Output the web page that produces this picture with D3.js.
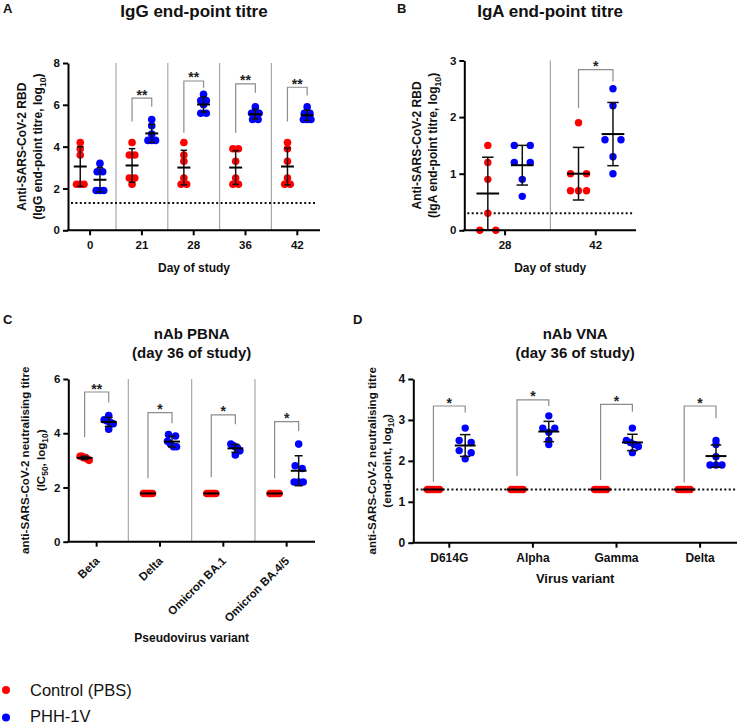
<!DOCTYPE html>
<html><head><meta charset="utf-8">
<script src="https://cdn.jsdelivr.net/npm/d3@7"></script>
<style>body{margin:0;background:#fff}svg{display:block}</style>
</head><body>
<svg id="chart" width="737" height="725"></svg>
<script>
// ---------------- DATA ----------------
const seriesNames = ["Control (PBS)", "PHH-1V"];

// Panel A: IgG end-point titre (log10)
const igGDays = ["0", "21", "28", "36", "42"];
const igGControl = [
  [4.2, 3.9, 3.6, 2.2, 2.2, 2.2],
  [4.2, 3.6, 3.6, 2.5, 2.5, 2.2],
  [4.2, 3.6, 3.3, 2.5, 2.2, 2.2],
  [3.9, 3.9, 3.3, 2.5, 2.2, 2.2],
  [4.2, 3.9, 3.3, 2.5, 2.2, 2.2]
];
const igGVaccine = [
  [3.2, 2.8, 2.8, 1.9, 1.9, 1.9],
  [5.3, 5.0, 4.6, 4.3, 4.3, 4.3],
  [6.5, 6.2, 6.2, 6.0, 5.6, 5.6],
  [5.9, 5.6, 5.6, 5.6, 5.3, 5.3],
  [5.9, 5.6, 5.6, 5.3, 5.3, 5.3]
];
const igGTicks = [0, 2, 4, 6, 8];
const igGLimit = 1.3;
const igGSigCats = ["21", "28", "36", "42"];
const igGSigLabels = ["**", "**", "**", "**"];
const igGSigTop = [6.32, 7.14, 7.0, 6.84];
const igGSigLeftEnd = [5.2, 4.67, 4.67, 5.2];
const igGSigRightEnd = [5.91, 6.82, 6.58, 6.44];

// Panel B: IgA end-point titre (log10)
const igADays = ["28", "42"];
const igAControl = [
  [1.5, 1.2, 0.9, 0.3, 0, 0],
  [1.9, 1.0, 1.0, 0.7, 0.7, 0.7]
];
const igAVaccine = [
  [1.5, 1.5, 1.2, 1.2, 0.9, 0.6],
  [2.5, 2.2, 1.6, 1.6, 1.3, 1.0]
];
const igATicks = [0, 1, 2, 3];
const igALimit = 0.3;
const igASigCats = ["42"];
const igASigLabels = ["*"];
const igASigTop = [2.84];
const igASigLeftEnd = [2.16];
const igASigRightEnd = [2.63];

// Panel C: nAb PBNA (IC50, log10), day 36
const pbnaVariants = ["Beta", "Delta", "Omicron BA.1", "Omicron BA.4/5"];
const pbnaControl = [
  [3.15, 3.15, 3.1, 3.1, 3.05, 3.0],
  [1.78, 1.78, 1.78, 1.78, 1.78, 1.78],
  [1.78, 1.78, 1.78, 1.78, 1.78, 1.78],
  [1.78, 1.78, 1.78, 1.78, 1.78, 1.78]
];
const pbnaVaccine = [
  [4.65, 4.5, 4.45, 4.4, 4.35, 4.15],
  [3.95, 3.9, 3.7, 3.6, 3.5, 3.5],
  [3.6, 3.55, 3.5, 3.45, 3.35, 3.2],
  [3.6, 2.8, 2.7, 2.2, 2.2, 2.2]
];
const pbnaTicks = [0, 2, 4, 6];
const pbnaSigCats = ["Beta", "Delta", "Omicron BA.1", "Omicron BA.4/5"];
const pbnaSigLabels = ["**", "*", "*", "*"];
const pbnaSigTop = [5.52, 4.76, 4.68, 4.43];
const pbnaSigLeftEnd = [3.85, 2.34, 2.38, 2.34];
const pbnaSigRightEnd = [5.13, 4.37, 4.33, 4.08];

// Panel D: nAb VNA (end-point, log10), day 36
const vnaVariants = ["D614G", "Alpha", "Gamma", "Delta"];
const vnaControl = [
  [1.3, 1.3, 1.3, 1.3, 1.3, 1.3],
  [1.3, 1.3, 1.3, 1.3, 1.3, 1.3],
  [1.3, 1.3, 1.3, 1.3, 1.3, 1.3],
  [1.3, 1.3, 1.3, 1.3, 1.3, 1.3]
];
const vnaVaccine = [
  [2.8, 2.5, 2.45, 2.25, 2.2, 2.05],
  [3.1, 2.8, 2.8, 2.7, 2.5, 2.4],
  [2.8, 2.5, 2.45, 2.4, 2.35, 2.2],
  [2.5, 2.4, 2.1, 1.9, 1.9, 1.9]
];
const vnaTicks = [0, 1, 2, 3, 4];
const vnaLimit = 1.3;
const vnaSigCats = ["D614G", "Alpha", "Gamma", "Delta"];
const vnaSigLabels = ["*", "*", "*", "*"];
const vnaSigTop = [3.34, 3.49, 3.38, 3.34];
const vnaSigLeftEnd = [1.49, 1.63, 1.53, 1.47];
const vnaSigRightEnd = [3.18, 3.34, 3.2, 3.04];

// ---------------- DRAWING ----------------
const FONT = '"Liberation Sans", Arial, Helvetica, sans-serif';
const COLORS = ["#ff0000", "#0000ff"];
const svg = d3.select("#chart").attr("font-family", FONT);

function swarm(vals, y, spacing, span) {
  const pts = vals.map(v => ({ v, py: y(v) })).sort((a, b) => a.py - b.py);
  const rows = [];
  let cur = [pts[0]];
  for (let i = 1; i < pts.length; i++) {
    if (pts[i].py - pts[i - 1].py < 3) cur.push(pts[i]);
    else { rows.push(cur); cur = [pts[i]]; }
  }
  rows.push(cur);
  rows.forEach(row => {
    const n = row.length;
    const s = n > 1 ? Math.min(spacing, span / (n - 1)) : 0;
    row.forEach((p, k) => { p.dx = (k - (n - 1) / 2) * s; });
  });
  return pts;
}

function labelWithSub(sel, parts, fs) {
  let shifted = false;
  parts.forEach(([t, sub]) => {
    const ts = sel.append("tspan").text(t);
    if (sub && !shifted) { ts.attr("dy", fs * 0.3).attr("font-size", fs * 0.72); shifted = true; }
    else if (!sub && shifted) { ts.attr("dy", -fs * 0.3); shifted = false; }
  });
}

function panel(c) {
  const g = svg.append("g");
  const x = d3.scaleBand().domain(c.cats).range(c.xRange).padding(0);
  const step = x.step();
  const cx = d => x(d) + step / 2;
  const y = d3.scaleLinear().domain([0, c.yMax]).range([c.yBottom, c.yTop]);
  const off = 0.19 * step, meanHalf = 0.125 * step, capHalf = 0.063 * step;

  if (c.separators) {
    c.cats.slice(1).forEach(cat => {
      g.append("line").attr("x1", x(cat)).attr("x2", x(cat))
        .attr("y1", y(c.yMax)).attr("y2", y(0))
        .attr("stroke", "#a8a8a8").attr("stroke-width", 1.2);
    });
  }
  if (c.limit != null) {
    g.append("line").attr("x1", c.axisX[0] + 3).attr("x2", c.limitEnd)
      .attr("y1", y(c.limit)).attr("y2", y(c.limit))
      .attr("stroke", "#111").attr("stroke-width", 2).attr("stroke-dasharray", "2,2.4");
  }
  c.sigCats.forEach((cat, i) => {
    const lx = cx(cat) - off, rx = cx(cat) + off;
    g.append("path")
      .attr("d", `M${lx},${y(c.sigLeft[i])}V${y(c.sigTop[i])}H${rx}V${y(c.sigRight[i])}`)
      .attr("fill", "none").attr("stroke", "#8c8c8c").attr("stroke-width", 1.2);
    g.append("text").attr("x", (lx + rx) / 2).attr("y", y(c.sigTop[i]) + 1.5)
      .attr("text-anchor", "middle").attr("font-size", 14).attr("font-weight", "bold")
      .attr("fill", "#222").text(c.sigLabels[i]);
  });

  const series = [c.ctrl, c.vacc];
  series.forEach((data, si) => {
    const sign = si === 0 ? -1 : 1;
    c.cats.forEach((cat, i) => {
      const gx = cx(cat) + sign * off;
      const pts = swarm(data[i], y, c.spacing, c.span);
      g.append("g").selectAll("circle").data(pts).enter().append("circle")
        .attr("cx", p => gx + p.dx).attr("cy", p => p.py).attr("r", c.r)
        .attr("fill", COLORS[si]);
    });
  });
  series.forEach((data, si) => {
    const sign = si === 0 ? -1 : 1;
    c.cats.forEach((cat, i) => {
      const gx = cx(cat) + sign * off;
      const m = d3.mean(data[i]);
      const sd = d3.deviation(data[i]) || 0;
      if (sd > 0) {
        g.append("line").attr("x1", gx).attr("x2", gx).attr("y1", y(m - sd)).attr("y2", y(m + sd))
          .attr("stroke", "#111").attr("stroke-width", 1.5);
        [m - sd, m + sd].forEach(v => {
          g.append("line").attr("x1", gx - capHalf).attr("x2", gx + capHalf)
            .attr("y1", y(v)).attr("y2", y(v)).attr("stroke", "#111").attr("stroke-width", 1.5);
        });
      }
      g.append("line").attr("x1", gx - meanHalf).attr("x2", gx + meanHalf)
        .attr("y1", y(m)).attr("y2", y(m)).attr("stroke", "#000").attr("stroke-width", 2);
    });
  });

  const ya = g.append("g").attr("transform", `translate(${c.axisX[0]},0)`)
    .call(d3.axisLeft(y).tickValues(c.yTicks).tickFormat(d3.format("d")).tickSize(5).tickSizeOuter(0).tickPadding(3));
  ya.select(".domain").attr("stroke", "#000").attr("stroke-width", 2);
  ya.selectAll(".tick line").attr("stroke", "#000").attr("stroke-width", 2);
  ya.selectAll(".tick text").attr("font-family", FONT).attr("font-size", c.tickFs)
    .attr("font-weight", "bold").attr("fill", "#111");

  const xa = g.append("g").attr("transform", `translate(0,${c.yBottom})`)
    .call(d3.axisBottom(x).tickSize(5).tickSizeOuter(0).tickPadding(6));
  xa.select(".domain").remove();
  xa.append("line").attr("x1", c.axisX[0] - 1).attr("x2", c.axisX[1]).attr("y1", 0).attr("y2", 0)
    .attr("stroke", "#000").attr("stroke-width", 2);
  xa.selectAll(".tick line").attr("stroke", "#000").attr("stroke-width", 2);
  const xt = xa.selectAll(".tick text").attr("font-family", FONT).attr("font-size", c.tickFs)
    .attr("font-weight", "bold").attr("fill", "#111");
  if (c.rotate) {
    xt.attr("text-anchor", "end").attr("dy", null).attr("y", 0)
      .attr("transform", "translate(3.5,20) rotate(-45)");
  }

  c.title.forEach((t, k) => {
    svg.append("text").attr("x", (c.axisX[0] + c.axisX[1]) / 2).attr("y", c.titleY + k * c.titleLh)
      .attr("text-anchor", "middle").attr("font-size", c.titleFs).attr("font-weight", "bold")
      .attr("fill", "#111").text(t);
  });
  svg.append("text").attr("x", c.letterX).attr("y", c.letterY).attr("font-size", 13)
    .attr("font-weight", "bold").attr("fill", "#111").text(c.letter);
  svg.append("text").attr("x", (c.axisX[0] + c.axisX[1]) / 2).attr("y", c.xTitleY)
    .attr("text-anchor", "middle").attr("font-size", c.xTitleFs).attr("font-weight", "bold")
    .attr("fill", "#111").text(c.xTitle);
  const yMid = (c.yBottom + c.yTop) / 2;
  c.yTitle.forEach((parts, k) => {
    const t = svg.append("text")
      .attr("transform", `translate(${c.yTitleX[k]},${yMid}) rotate(-90)`)
      .attr("text-anchor", "middle").attr("font-size", c.yTitleFs).attr("font-weight", "bold")
      .attr("fill", "#111");
    labelWithSub(t, parts, c.yTitleFs);
  });
}

panel({
  cats: igGDays, ctrl: igGControl, vacc: igGVaccine, yTicks: igGTicks, yMax: 8,
  xRange: [64.2, 323.2], axisX: [68, 320], yBottom: 230.3, yTop: 63,
  separators: true, limit: igGLimit, limitEnd: 317,
  sigCats: igGSigCats, sigLabels: igGSigLabels, sigTop: igGSigTop, sigLeft: igGSigLeftEnd, sigRight: igGSigRightEnd,
  r: 3.8, spacing: 5.5, span: 7.5, tickFs: 11.5,
  title: ["IgG end-point titre"], titleY: 17, titleLh: 0, titleFs: 17,
  letter: "A", letterX: 3, letterY: 13,
  xTitle: "Day of study", xTitleY: 271.5, xTitleFs: 12,
  yTitle: [[["Anti-SARS-CoV-2 RBD", false]], [["(IgG end-point titre, log", false], ["10", true], [")", false]]],
  yTitleX: [26, 42], yTitleFs: 12
});

panel({
  cats: igADays, ctrl: igAControl, vacc: igAVaccine, yTicks: igATicks, yMax: 3,
  xRange: [459.7, 641.1], axisX: [464.3, 636], yBottom: 230.3, yTop: 60.5,
  separators: true, limit: igALimit, limitEnd: 633,
  sigCats: igASigCats, sigLabels: igASigLabels, sigTop: igASigTop, sigLeft: igASigLeftEnd, sigRight: igASigRightEnd,
  r: 3.7, spacing: 16, span: 16, tickFs: 11.5,
  title: ["IgA end-point titre"], titleY: 17, titleLh: 0, titleFs: 17,
  letter: "B", letterX: 397, letterY: 13,
  xTitle: "Day of study", xTitleY: 271.5, xTitleFs: 12,
  yTitle: [[["Anti-SARS-CoV-2 RBD", false]], [["(IgA end-point titre, log", false], ["10", true], [")", false]]],
  yTitleX: [421, 437], yTitleFs: 12
});

panel({
  cats: pbnaVariants, ctrl: pbnaControl, vacc: pbnaVaccine, yTicks: pbnaTicks, yMax: 6,
  xRange: [65, 318.3], axisX: [68.3, 315], yBottom: 541.7, yTop: 379,
  separators: true, limit: null,
  sigCats: pbnaSigCats, sigLabels: pbnaSigLabels, sigTop: pbnaSigTop, sigLeft: pbnaSigLeftEnd, sigRight: pbnaSigRightEnd,
  r: 3.8, spacing: 7, span: 9, tickFs: 11.5, rotate: true,
  title: ["nAb PBNA", "(day 36 of study)"], titleY: 338.5, titleLh: 19.5, titleFs: 15,
  letter: "C", letterX: 3, letterY: 324,
  xTitle: "Pseudovirus variant", xTitleY: 642, xTitleFs: 12,
  yTitle: [[["anti-SARS-CoV-2 neutralising titre", false]], [["(IC", false], ["50", true], [", log", false], ["10", true], [")", false]]],
  yTitleX: [29, 45], yTitleFs: 11.6
});

panel({
  cats: vnaVariants, ctrl: vnaControl, vacc: vnaVaccine, yTicks: vnaTicks, yMax: 4,
  xRange: [407.5, 741.9], axisX: [413.3, 737], yBottom: 542.7, yTop: 379,
  separators: false, limit: vnaLimit, limitEnd: 737,
  sigCats: vnaSigCats, sigLabels: vnaSigLabels, sigTop: vnaSigTop, sigLeft: vnaSigLeftEnd, sigRight: vnaSigRightEnd,
  r: 3.7, spacing: 14, span: 12, tickFs: 12,
  title: ["nAb VNA", "(day 36 of study)"], titleY: 338.5, titleLh: 19.5, titleFs: 15,
  letter: "D", letterX: 353, letterY: 324,
  xTitle: "Virus variant", xTitleY: 583, xTitleFs: 13,
  yTitle: [[["anti-SARS-CoV-2 neutralising titre", false]], [["(end-point, log", false], ["10", true], [")", false]]],
  yTitleX: [376, 391], yTitleFs: 11.6
});

// legend
const legend = svg.append("g");
seriesNames.forEach((name, i) => {
  legend.append("circle").attr("cx", 6).attr("cy", 690 + i * 27.5).attr("r", 4).attr("fill", COLORS[i]);
  legend.append("text").attr("x", 30).attr("y", 695.5 + i * 26.5).attr("font-size", 16.5)
    .attr("fill", "#111").text(name);
});
</script>
</body></html>
